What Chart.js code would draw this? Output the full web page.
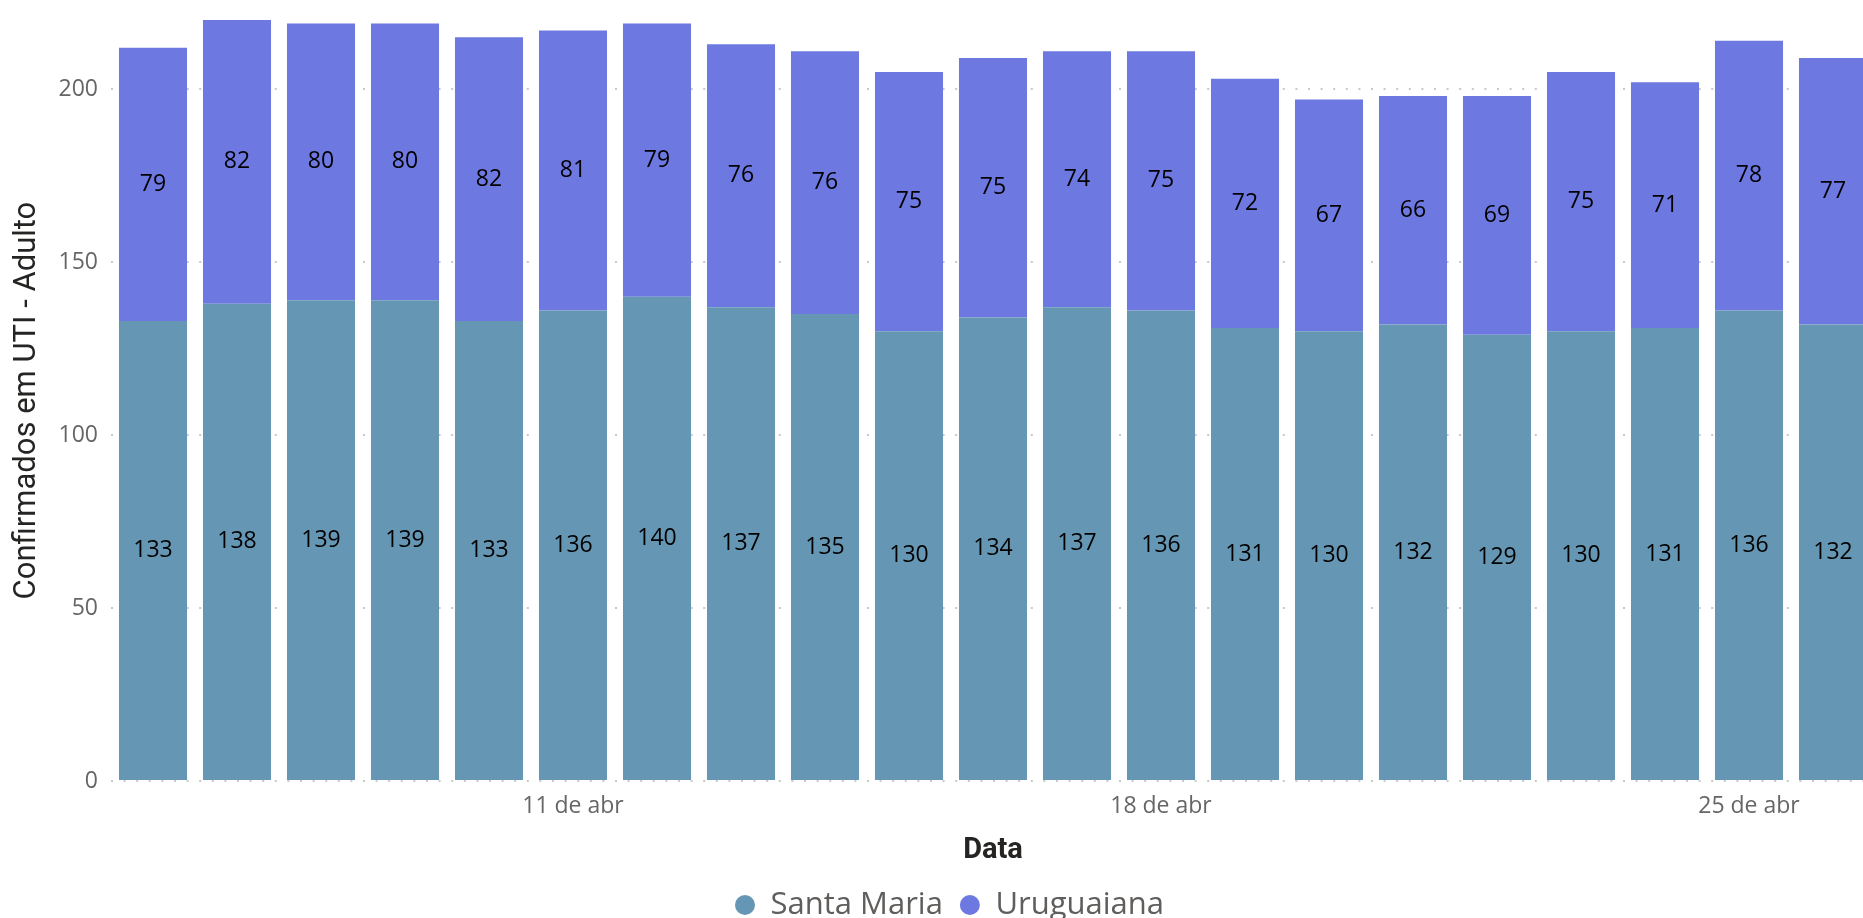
<!DOCTYPE html>
<html>
<head>
<meta charset="utf-8">
<script src="https://cdn.jsdelivr.net/npm/chart.js@4/dist/chart.umd.min.js"></script>
<style>
  html, body { margin: 0; overflow: hidden; background: #fff; }
  #wrap { width: 1880px; height: 937px; }
</style>
</head>
<body>
<div id="wrap"><canvas id="utiChart" width="1880" height="937"></canvas></div>
<script>
// Confirmados em UTI (adulto) por dia
const dias = ['6 de abr', '7 de abr', '8 de abr', '9 de abr', '10 de abr', '11 de abr', '12 de abr',
  '13 de abr', '14 de abr', '15 de abr', '16 de abr', '17 de abr', '18 de abr', '19 de abr',
  '20 de abr', '21 de abr', '22 de abr', '23 de abr', '24 de abr', '25 de abr', '26 de abr'];
const santaMaria = [133, 138, 139, 139, 133, 136, 140, 137, 135, 130, 134, 137, 136, 131, 130, 132, 129, 130, 131, 136, 132];
const uruguaiana = [79, 82, 80, 80, 82, 81, 79, 76, 76, 75, 75, 74, 75, 72, 67, 66, 69, 75, 71, 78, 77];
const rotulosX = ['11 de abr', '18 de abr', '25 de abr'];

// values written in the middle of each segment
const rotulosBarras = {
  id: 'rotulosBarras',
  afterLayout(chart) {
    // nudge the legend a bit to the right, as in the original
    chart.legend.left += 10;
    chart.legend.right += 10;
  },
  afterDatasetsDraw(chart) {
    const ctx = chart.ctx;
    ctx.save();
    ctx.font = '23px "Open Sans"';
    ctx.fillStyle = '#000';
    ctx.textAlign = 'center';
    ctx.textBaseline = 'middle';
    chart.data.datasets.forEach((ds, i) => {
      chart.getDatasetMeta(i).data.forEach((bar, j) => {
        const p = bar.getProps(['x', 'y', 'base'], true);
        ctx.fillText(ds.data[j], p.x, (p.y + p.base) / 2);
      });
    });
    ctx.restore();
  }
};

const ctx = document.getElementById('utiChart').getContext('2d');

const utiChart = new Chart(ctx, {
  type: 'bar',
  data: {
    labels: dias,
    datasets: [{
      label: 'Santa Maria',
      data: santaMaria,
      backgroundColor: '#6597b4',
      borderWidth: 0,
      barPercentage: 0.81,
      categoryPercentage: 1,
      pointStyle: 'circle'
    }, {
      label: 'Uruguaiana',
      data: uruguaiana,
      backgroundColor: '#6d78e1',
      borderWidth: 0,
      barPercentage: 0.81,
      categoryPercentage: 1,
      pointStyle: 'circle'
    }]
  },
  options: {
    responsive: false,
    animation: false,
    layout: { padding: { left: 4, right: 5, top: 20, bottom: 6.5 } },
    plugins: {
      tooltip: { enabled: false },
      legend: {
        position: 'bottom',
        labels: {
          usePointStyle: true,
          pointStyleWidth: 20,
          boxHeight: 14,
          padding: 17,
          color: '#605e5c',
          font: { family: '"Open Sans"', size: 31 }
        }
      }
    },
    scales: {
      x: {
        stacked: true,
        grid: { display: false },
        border: { display: false },
        ticks: {
          autoSkip: false,
          maxRotation: 0,
          padding: 4,
          color: '#666666',
          font: { family: '"Open Sans"', size: 23 },
          callback: (v, i) => rotulosX.includes(dias[i]) ? dias[i] : ''
        },
        title: {
          display: true,
          text: 'Data',
          color: '#252423',
          font: { family: 'Roboto', size: 29, weight: 'bold' },
          padding: { top: 9, bottom: 4 }
        }
      },
      y: {
        stacked: true,
        min: 0,
        max: 220,
        afterFit: s => {
          s.width = 107;
          s.paddingTop = 0;
          s.paddingBottom = 0;
        },
        ticks: {
          stepSize: 50,
          includeBounds: false,
          padding: 13,
          color: '#666666',
          font: { family: '"Open Sans"', size: 23 }
        },
        grid: { color: '#c8c8c8', lineWidth: 2, drawTicks: false },
        border: { display: false, dash: [2, 10.6] },
        title: {
          display: true,
          text: 'Confirmados em UTI - Adulto',
          color: '#252423',
          font: { family: 'Roboto', size: 31 },
          padding: { top: 5, bottom: 5 }
        }
      }
    }
  },
  plugins: [rotulosBarras]
});
</script>
</body>
</html>
